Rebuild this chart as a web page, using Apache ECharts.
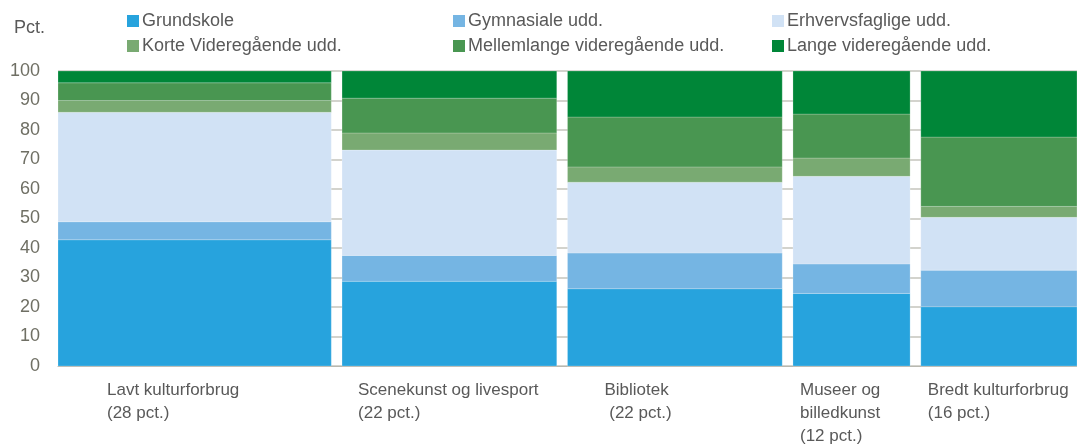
<!DOCTYPE html>
<html>
<head>
<meta charset="utf-8">
<script src="https://cdn.jsdelivr.net/npm/echarts@6/dist/echarts.min.js"></script>
<style>
  html, body { margin: 0; padding: 0; background: #fff; }
  #main { width: 1077px; height: 444px; }
</style>
</head>
<body>
<div id="main"></div>
<script>
// groups (column width = share of population, pct.)
var categories = ['Lavt kulturforbrug\n(28 pct.)', 'Scenekunst og livesport\n(22 pct.)', 'Bibliotek\n (22 pct.)', 'Museer og\nbilledkunst\n(12 pct.)', 'Bredt kulturforbrug\n(16 pct.)'];
var widths = [28, 22, 22, 12, 16];

var levels = ['Grundskole', 'Gymnasiale udd.', 'Erhvervsfaglige udd.', 'Korte Videregående udd.', 'Mellemlange videregående udd.', 'Lange videregående udd.'];
var grundskole = [42.8, 28.7, 26.2, 24.6, 20.1];
var gymnasiale = [6.1, 8.8, 12.1, 10.0, 12.4];
var erhverv = [37.1, 35.7, 24.0, 29.7, 17.9];
var korte = [4.0, 5.8, 5.2, 6.2, 3.7];
var mellemlange = [6.0, 11.8, 16.9, 14.9, 23.5];
var lange = [4.0, 9.2, 15.6, 14.6, 22.4];

var yTicks = [0, 10, 20, 30, 40, 50, 60, 70, 80, 90, 100];

var colors = ['#27a3dd', '#75b5e3', '#d1e2f5', '#79aa72', '#499651', '#008638'];
var labelOffsets = [49, 16, 37, 7, 7];   // px from column start
var GAP = 1.1;
var FONT = '"Liberation Sans", Arial, sans-serif';

var chart = echarts.init(document.getElementById('main'));

// column start/end along the x axis
var xStart = [], xEnd = [];
var cum = 0;
widths.forEach(function (w, i) {
  xStart.push(cum);
  xEnd.push(cum + w);
  cum += w + GAP;
});
var xMax = cum - GAP;

var values = [grundskole, gymnasiale, erhverv, korte, mellemlange, lange];
var base = widths.map(function () { return 0; });

function renderRect(params, api) {
  var p0 = api.coord([api.value(0), api.value(3)]);
  var p1 = api.coord([api.value(1), api.value(2)]);
  return {
    type: 'rect',
    shape: { x: p0[0], y: p0[1], width: p1[0] - p0[0], height: p1[1] - p0[1] },
    style: { fill: api.visual('color'), stroke: 'rgba(255,255,255,0.35)', lineWidth: 0.6 }
  };
}

var series = levels.map(function (name, k) {
  var data = widths.map(function (w, i) {
    var y0 = base[i];
    var y1 = y0 + values[k][i];
    base[i] = y1;
    return [xStart[i], xEnd[i], y0, y1];
  });
  return {
    name: name,
    type: 'custom',
    renderItem: renderRect,
    itemStyle: { color: colors[k] },
    encode: { x: [0, 1], y: [2, 3] },
    data: data,
    z: 2
  };
});

// category labels under the columns
series.push({
  name: 'labels',
  type: 'custom',
  silent: true,
  encode: { x: 0, y: 1 },
  data: xStart.map(function (x) { return [x, 0]; }),
  renderItem: function (params, api) {
    var p = api.coord([api.value(0), 0]);
    return {
      type: 'text',
      x: p[0] + labelOffsets[params.dataIndex],
      y: p[1] + 13,
      style: {
        text: categories[params.dataIndex],
        fill: '#595959',
        font: '17px ' + FONT,
        lineHeight: 23,
        verticalAlign: 'top',
        align: 'left'
      }
    };
  }
});

function makeLegend(left, names) {
  return {
    orient: 'vertical',
    left: left,
    top: 7,
    itemWidth: 12,
    itemHeight: 12,
    itemGap: 7,
    icon: 'rect',
    selectedMode: false,
    data: names,
    textStyle: { color: '#595959', fontSize: 18, fontFamily: FONT, lineHeight: 18, padding: [0, 0, 0, -2] }
  };
}

var option = {
  backgroundColor: '#ffffff',
  animation: false,
  legend: [
    makeLegend(122, [levels[0], levels[3]]),
    makeLegend(448, [levels[1], levels[4]]),
    makeLegend(767, [levels[2], levels[5]])
  ],
  graphic: [
    { type: 'text', left: 14, top: 19, style: { text: 'Pct.', fill: '#595959', font: '18px ' + FONT } }
  ],
  grid: { left: 58, right: 0, top: 71, bottom: 78 },
  xAxis: {
    type: 'value',
    min: 0,
    max: xMax,
    axisLine: { show: true, lineStyle: { color: '#b8b8b0', width: 1 } },
    axisTick: { show: false },
    axisLabel: { show: false },
    splitLine: { show: false }
  },
  yAxis: {
    type: 'value',
    min: yTicks[0],
    max: yTicks[yTicks.length - 1],
    interval: 10,
    axisLine: { show: false },
    axisTick: { show: false },
    axisLabel: { color: '#6f6f64', fontSize: 18, fontFamily: FONT, margin: 18 },
    splitLine: { show: true, lineStyle: { color: '#c4c4bc', width: 1.5 } }
  },
  series: series
};

option && chart.setOption(option);
</script>
</body>
</html>
